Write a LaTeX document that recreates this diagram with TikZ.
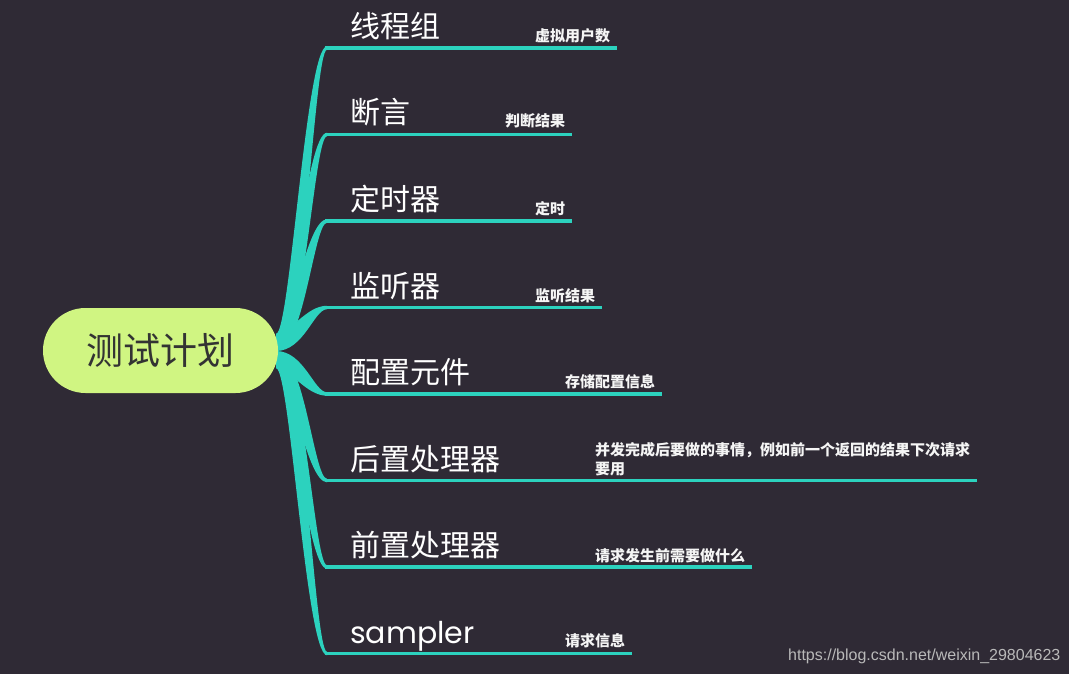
\documentclass[tikz,border=0pt]{standalone}
\usepackage{fontspec}
\setmainfont{Noto Sans CJK SC}
\newfontfamily\latinf{Poppins}
\newfontfamily\wmfont{Liberation Sans}
\definecolor{bgc}{RGB}{47,42,53}
\definecolor{branchc}{RGB}{44,210,190}
\definecolor{rootc}{RGB}{208,245,130}
\definecolor{roottext}{RGB}{51,51,51}
\definecolor{notec}{RGB}{245,245,245}
\definecolor{wmc}{RGB}{185,185,185}
\newcommand\mmbranch[2]{%
  \fill[branchc] (276,{351-17*#2}) .. controls (290,{351-17*#2}) and (306,{#1-1.75*#2}) .. (327,{#1-1.75*#2})
    -- (327,{#1+1.75*#2}) .. controls (314,{#1+1.75*#2}) and (304,351) .. (276,351) -- cycle;}
\begin{document}
\begin{tikzpicture}[x=1pt,y=-1pt,
  rootbox/.style={fill=rootc, rounded corners=42.5pt, minimum width=235pt, minimum height=85pt,
    inner sep=0pt, text=roottext, font=\fontsize{37}{40}\selectfont},
  toplabel/.style={anchor=base west, inner sep=0pt, text=white, font=\fontsize{30}{34}\selectfont},
  notelabel/.style={anchor=base west, inner sep=0pt, text=notec, font=\fontsize{15}{19}\selectfont\bfseries},
  underline/.style={draw=branchc, line width=3.5pt}]
\useasboundingbox (0,0) rectangle (1069,674);
\fill[bgc] (0,0) rectangle (1069,674);
% branches (tapered curves)
\mmbranch{48}{1}
\mmbranch{134.5}{1}
\mmbranch{221}{1}
\mmbranch{307.5}{1}
\mmbranch{394}{-1}
\mmbranch{480.5}{-1}
\mmbranch{567}{-1}
\mmbranch{653.5}{-1}
% root
\node[rootbox] (root) at (160.5,350.5) {测试计划};
% branch coordinates
\coordinate (b1) at (325,48);    \coordinate (e1) at (617,48);
\coordinate (b2) at (325,134.5); \coordinate (e2) at (572,134.5);
\coordinate (b3) at (325,221);   \coordinate (e3) at (572,221);
\coordinate (b4) at (325,307.5); \coordinate (e4) at (602,307.5);
\coordinate (b5) at (325,394);   \coordinate (e5) at (662,394);
\coordinate (b6) at (325,480.5); \coordinate (e6) at (977,480.5);
\coordinate (b7) at (325,567);   \coordinate (e7) at (752,567);
\coordinate (b8) at (325,653.5); \coordinate (e8) at (632,653.5);
\foreach \i in {1,...,8} {\draw[underline] (b\i) -- (e\i);}
% labels
\node[toplabel] (l1) at (350,37.5) {线程组};
\node[toplabel] (l2) at (350,124) {断言};
\node[toplabel] (l3) at (350,210.5) {定时器};
\node[toplabel] (l4) at (350,297) {监听器};
\node[toplabel] (l5) at (350,383.5) {配置元件};
\node[toplabel] (l6) at (350,470) {后置处理器};
\node[toplabel] (l7) at (350,556.5) {前置处理器};
\node[toplabel, font=\fontsize{30}{34}\selectfont\latinf] (l8) at (350,643) {sampler};
% notes
\node[notelabel] (n1) at (535,41.5) {虚拟用户数};
\node[notelabel] (n2) at (505,126.5) {判断结果};
\node[notelabel] (n3) at (535,214.5) {定时};
\node[notelabel] (n4) at (535,301) {监听结果};
\node[notelabel] (n5) at (565,387) {存储配置信息};
\node[notelabel, align=left] (n6) at (595,474) {并发完成后要做的事情，例如前一个返回的结果下次请求\\要用};
\node[notelabel] (n7) at (595,561.5) {请求发生前需要做什么};
\node[notelabel] (n8) at (565,646.5) {请求信息};
% watermark
\node[anchor=base west, inner sep=0pt, text=wmc, font=\fontsize{16}{19}\selectfont\wmfont] (wm) at (788,660) {https://blog.csdn.net/weixin\_29804623};
\end{tikzpicture}
\end{document}
